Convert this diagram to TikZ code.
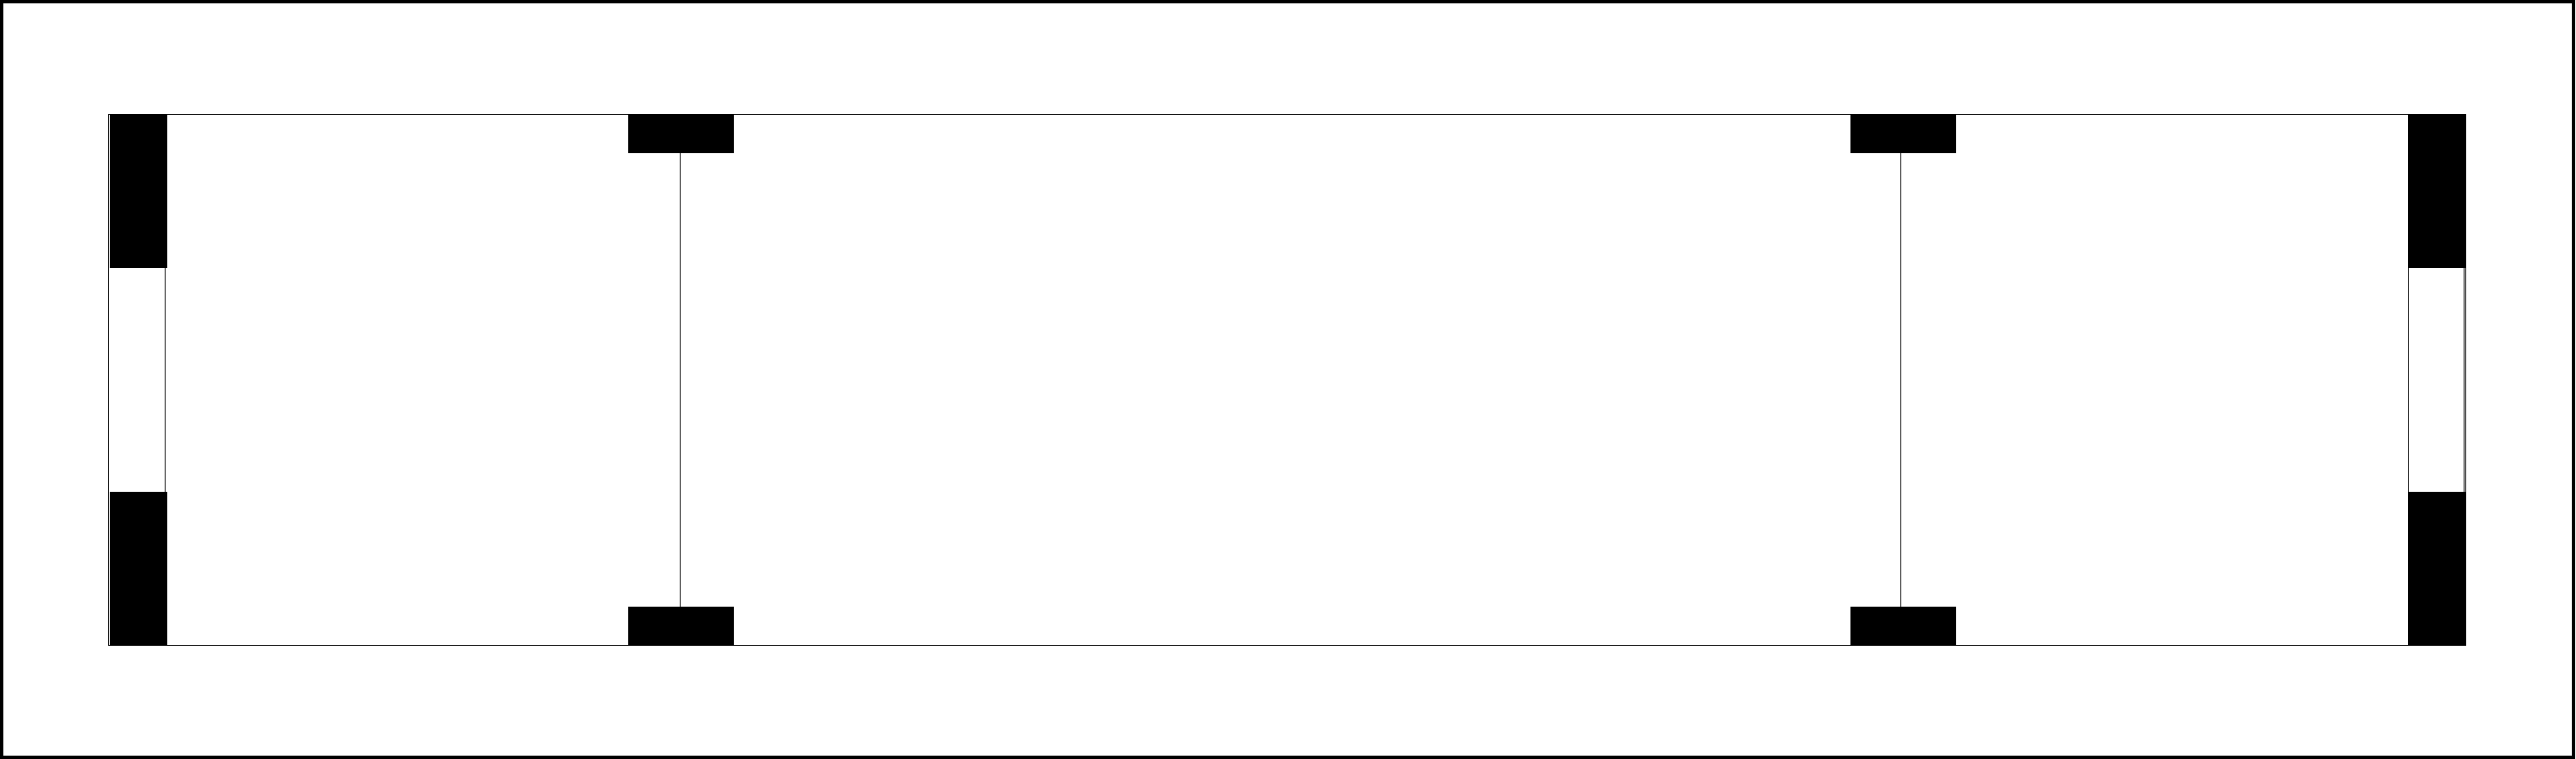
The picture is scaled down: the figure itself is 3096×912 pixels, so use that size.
\documentclass[tikz,border=0pt]{standalone}
\begin{document}
\begin{tikzpicture}[x=0.01cm,y=-0.01cm]
\tikzset{wall/.style={line width=0.3pt},
  pier/.style={fill=black},
  frameline/.style={line width=1.1pt}}
\useasboundingbox (0,0) rectangle (3096,912);
% frame
\draw[frameline] (2,2) rectangle (3093,910);
% outline of the bay
\draw[wall] (130.5,137.5) rectangle (2963.5,775.5);
% left and right pillars
\fill[pier] (132,137.5) rectangle (201,322);
\fill[pier] (132,591) rectangle (201,775.5);
\draw[wall] (198.5,322) -- (198.5,591);
\fill[pier] (2894,137.5) rectangle (2962.5,322);
\fill[pier] (2894,591) rectangle (2962.5,775.5);
\draw[wall] (2894.5,322) -- (2894.5,591);
\draw[wall] (2961.5,322) -- (2961.5,591);
% columns
\fill[pier] (755,137.5) rectangle (882,184);
\fill[pier] (755,729) rectangle (882,775.5);
\coordinate (colAtop) at (817.5,184);
\coordinate (colAbot) at (817.5,729);
\draw[wall] (colAtop) -- (colAbot);
\fill[pier] (2224,137.5) rectangle (2351,184);
\fill[pier] (2224,729) rectangle (2351,775.5);
\coordinate (colBtop) at (2284.5,184);
\coordinate (colBbot) at (2284.5,729);
\draw[wall] (colBtop) -- (colBbot);
\end{tikzpicture}
\end{document}
